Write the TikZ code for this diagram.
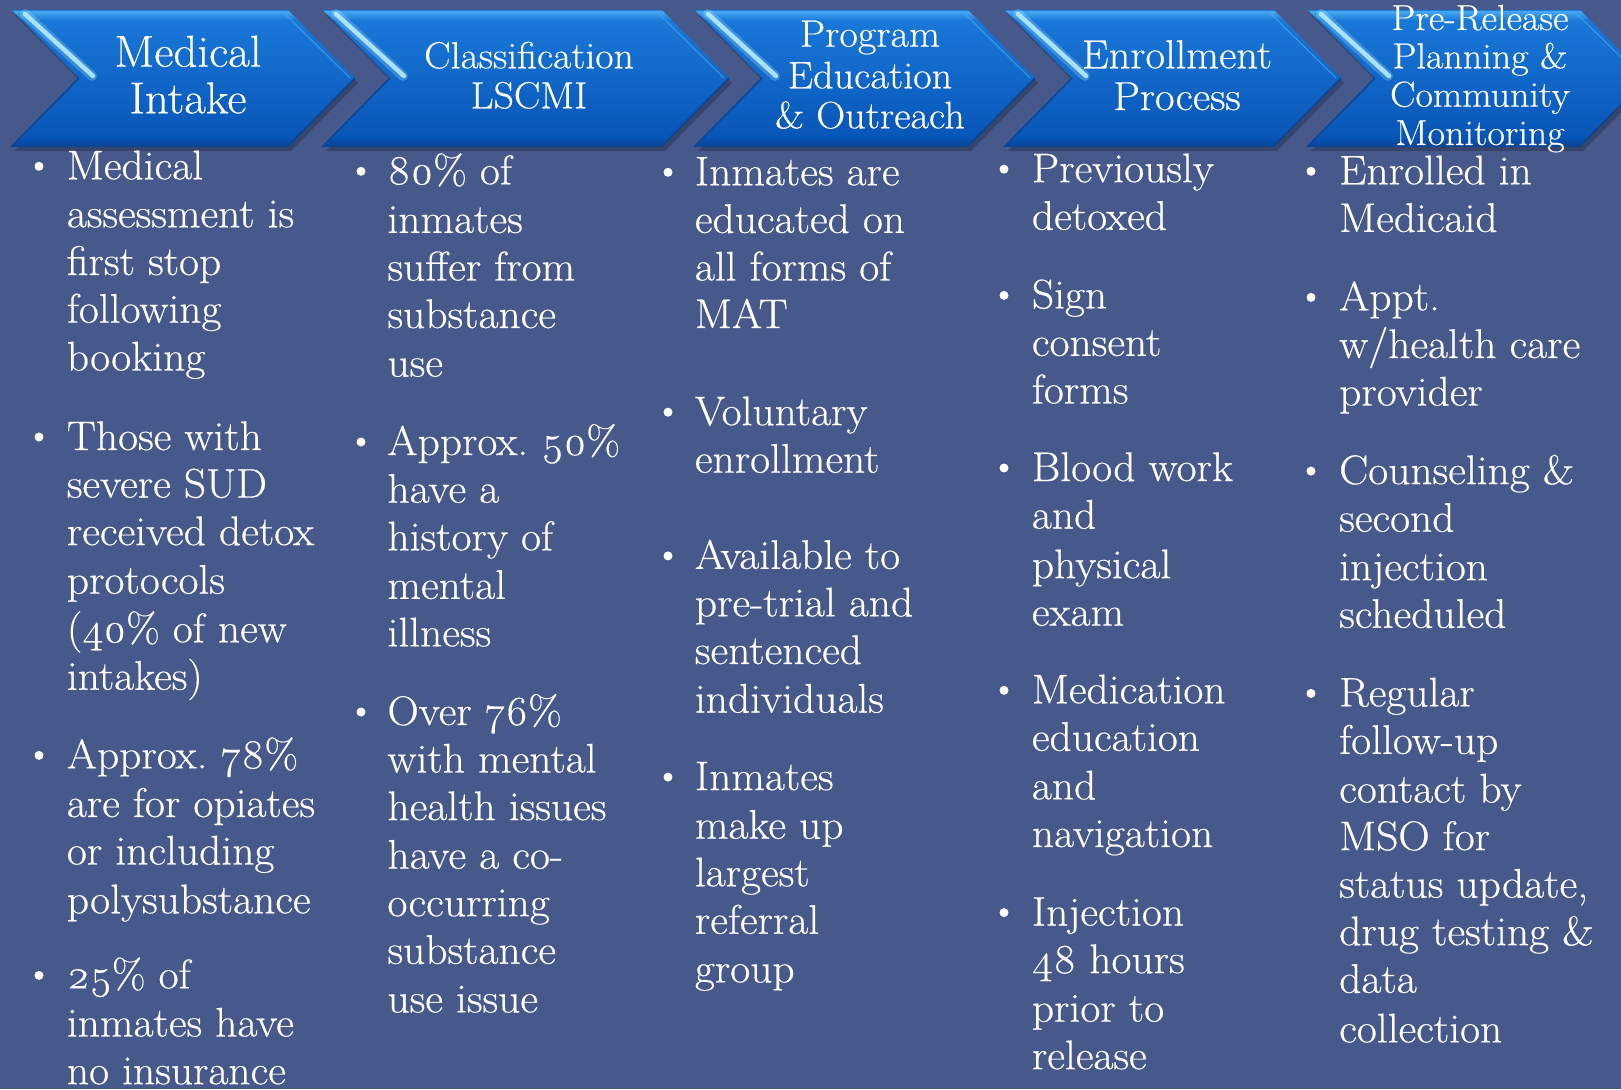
\documentclass[tikz,border=0pt]{standalone}
\usepackage{fontspec}
\setmainfont{Latin Modern Roman}[Numbers=OldStyle, FakeStretch=1.05, FakeBold=0.4]
\usetikzlibrary{shadings}

\definecolor{bg}{HTML}{47598B}
\definecolor{chevtop}{HTML}{1B7BDB}
\definecolor{chevmid}{HTML}{0A60C8}
\definecolor{chevbot}{HTML}{0753B5}
\definecolor{chevband}{HTML}{4AACF4}
\definecolor{chevhi}{HTML}{B4ECFF}
\definecolor{chevdark}{HTML}{0A4696}

\tikzset{
  bodyline/.style={anchor=base west, inner sep=0pt, text=white,
                   font=\fontsize{41.4}{48}\selectfont},
  titleline/.style={anchor=base, inner sep=0pt, text=white},
  dot/.style={circle, fill=white, inner sep=0pt, minimum size=9pt},
}

% one chevron: #1 name, #2 x of the left corners, #3 x of the right corners
\newcommand\chevronshape[3]{%
  \coordinate (#1-tl) at (#2,10);
  \coordinate (#1-n)  at ({#2+67},78);
  \coordinate (#1-bl) at (#2,146);
  \coordinate (#1-br) at (#3,146);
  \coordinate (#1-t)  at ({#3+67},78);
  \coordinate (#1-tr) at (#3,10);
  % drop shadow
  \fill[black, opacity=0.22]
    ([shift={(3,5)}]#1-tl) -- ([shift={(3,5)}]#1-n) -- ([shift={(3,5)}]#1-bl)
    -- ([shift={(3,5)}]#1-br) -- ([shift={(3,5)}]#1-t) -- ([shift={(3,5)}]#1-tr) -- cycle;
  % body
  \shade[top color=chevtop, middle color=chevmid, bottom color=chevbot]
    (#1-tl) -- (#1-n) -- (#1-bl) -- (#1-br) -- (#1-t) -- (#1-tr) -- cycle;
  \begin{scope}
    \clip (#1-tl) -- (#1-n) -- (#1-bl) -- (#1-br) -- (#1-t) -- (#1-tr) -- cycle;
    % bright band under the top edge
    \shade[top color=chevband, bottom color=chevtop, opacity=0.85]
      (#2,12) rectangle ({#3+70},20);
    % darker rim along the bottom
    \shade[top color=chevbot, bottom color=chevdark]
      (#2,138) rectangle ({#3+70},146);
  \end{scope}
  % bevel edges
  \draw[chevdark, line width=1.6pt] (#1-n) -- (#1-bl) -- (#1-br) -- (#1-t);
  \draw[chevband, line width=1.2pt, opacity=0.6]
    ([shift={(-4,3)}]#1-tr) -- ([shift={(-5,0)}]#1-t);
  % glossy highlight on the upper left edge
  \draw[chevhi, line width=10pt, line cap=round, opacity=0.25]
    ([shift={(13,4)}]#1-tl) -- ([shift={(13,-2)}]#1-n);
  \draw[chevhi, line width=4.5pt, line cap=round, opacity=0.9]
    ([shift={(13,4)}]#1-tl) -- ([shift={(14,-2)}]#1-n);
}

\begin{document}
\begin{tikzpicture}[x=1pt, y=-1pt]
  \useasboundingbox (0,0) rectangle (1621,1089);
  \fill[bg] (0,0) rectangle (1621,1089);
  \clip (0,0) rectangle (1621,1089);

  % process chevrons
  \chevronshape{s1}{12}{288}
  \chevronshape{s2}{323}{662}
  \chevronshape{s3}{695}{968}
  \chevronshape{s4}{1005}{1274}
  \chevronshape{s5}{1308}{1580}

  % chevron titles
  \begin{scope}[every node/.append style={font=\fontsize{44.7}{48}\selectfont}]
    \foreach \y/\t [count=\i] in {66.7/Medical, 113.3/Intake}
      \node[titleline] (h1-\i) at (188,\y) {\t};
  \end{scope}
  \begin{scope}[every node/.append style={font=\fontsize{37.8}{40}\selectfont}]
    \foreach \y/\t [count=\i] in {68.3/Classification, 108.3/LSCMI}
      \node[titleline] (h2-\i) at (529,\y) {\t};
  \end{scope}
  \begin{scope}[every node/.append style={font=\fontsize{38.3}{41}\selectfont}]
    \foreach \y/\t [count=\i] in {46.7/Program, 88.3/Education, 128.3/{\& Outreach}}
      \node[titleline] (h3-\i) at (870,\y) {\t};
  \end{scope}
  \begin{scope}[every node/.append style={font=\fontsize{40.5}{42}\selectfont}]
    \foreach \y/\t [count=\i] in {68.3/Enrollment, 110/Process}
      \node[titleline] (h4-\i) at (1177,\y) {\t};
  \end{scope}
  \begin{scope}[every node/.append style={font=\fontsize{36.2}{38}\selectfont}]
    \foreach \y/\t [count=\i] in {30/Pre-Release, 68.3/{Planning \&}, 106.7/Community, 145/Monitoring}
      \node[titleline] (h5-\i) at (1480,\y) {\t};
  \end{scope}

  % column 1: Medical Intake
  \foreach \y [count=\i] in {179.3, 450, 768.4, 988.4}
    \node[dot] (d1-\i) at (39,\y-13) {};
  \foreach \y/\t [count=\i] in {
      179.3/Medical, 227.3/{assessment is}, 275/{first stop}, 322.7/following, 370.5/booking,
      450/{Those with}, 497.6/{severe SUD}, 545.1/{received detox}, 593.7/protocols,
      642.3/{(40\% of new}, 689.8/{intakes)},
      768.4/{Approx.\ 78\%}, 817/{are for opiates}, 864.5/{or including}, 913.3/polysubstance,
      988.4/{25\% of}, 1036.5/{inmates have}, 1084.2/{no insurance}}
    \node[bodyline] (t1-\i) at (66.7,\y) {\t};

  % column 2: Classification LSCMI
  \foreach \y [count=\i] in {184.3, 455, 725}
    \node[dot] (d2-\i) at (361,\y-13) {};
  \foreach \y/\t [count=\i] in {
      184.3/{80\% of}, 232.9/inmates, 280.5/{suffer from}, 328/substance, 376.6/use,
      455/{Approx.\ 50\%}, 502.7/{have a}, 550.3/{history of}, 598.9/mental, 646.4/illness,
      725/{Over 76\%}, 772.5/{with mental}, 820.1/{health issues}, 868.7/{have a co-},
      916.2/occurring, 963.8/substance, 1012.4/{use issue}}
    \node[bodyline] (t2-\i) at (387.3,\y) {\t};

  % column 3: Program Education & Outreach
  \foreach \y [count=\i] in {185.3, 425.2, 568.9, 790.1}
    \node[dot] (d3-\i) at (668,\y-13) {};
  \foreach \y/\t [count=\i] in {
      185.3/{Inmates are}, 232.9/{educated on}, 280.5/{all forms of}, 328/MAT,
      425.2/Voluntary, 472.7/enrollment,
      568.9/{Available to}, 616.4/{pre-trial and}, 664/sentenced, 712.6/individuals,
      790.1/Inmates, 838.7/{make up}, 886.3/largest, 933.8/referral, 982.4/group}
    \node[bodyline] (t3-\i) at (694.7,\y) {\t};

  % column 4: Enrollment Process
  \foreach \y [count=\i] in {182.2, 308.4, 481, 703.3, 925.6}
    \node[dot] (d4-\i) at (1004,\y-13) {};
  \foreach \y/\t [count=\i] in {
      182.2/Previously, 229.8/detoxed,
      308.4/Sign, 355.9/consent, 403.5/forms,
      481/{Blood work}, 528.6/and, 578.2/physical, 625.7/exam,
      703.3/Medication, 750.8/education, 799.4/and, 847/navigation,
      925.6/Injection, 973.1/{48 hours}, 1021.7/{prior to}, 1069.2/release}
    \node[bodyline] (t4-\i) at (1031.7,\y) {\t};

  % column 5: Pre-Release Planning & Community Monitoring
  \foreach \y [count=\i] in {184.3, 310.4, 484.1, 706.4}
    \node[dot] (d5-\i) at (1311,\y-13) {};
  \foreach \y/\t [count=\i] in {
      184.3/{Enrolled in}, 231.9/Medicaid,
      310.4/Appt., 358/{w/health care}, 405.5/provider,
      484.1/{Counseling \&}, 531.7/second, 580.2/injection, 627.8/scheduled,
      706.4/Regular, 753.9/follow-up, 802.5/{contact by}, 850.1/{MSO for},
      897.6/{status update,}, 945.2/{drug testing \&}, 992.8/data, 1042.4/collection}
    \node[bodyline] (t5-\i) at (1339,\y) {\t};
\end{tikzpicture}
\end{document}
